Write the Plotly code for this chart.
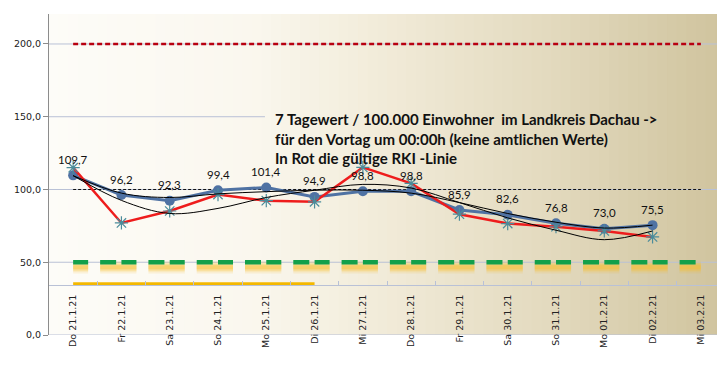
import plotly.graph_objects as go

# ---------------- data ----------------
categories = ["Do 21.1.21", "Fr 22.1.21", "Sa 23.1.21", "So 24.1.21", "Mo 25.1.21",
              "Di 26.1.21", "Mi 27.1.21", "Do 28.1.21", "Fr 29.1.21", "Sa 30.1.21",
              "So 31.1.21", "Mo 01.2.21", "Di 02.2.21", "Mi 03.2.21"]

own_values = [109.7, 96.2, 92.3, 99.4, 101.4, 94.9, 98.8, 98.8, 85.9, 82.6, 76.8, 73.0, 75.5]
rki_values = [115.0, 77.0, 85.2, 96.5, 92.3, 91.5, 115.2, 104.2, 83.0, 76.6, 74.4, 71.5, 67.4]
trend_own = [109.5, 97.5, 94.5, 97.0, 98.5, 99.5, 99.5, 97.5, 91.0, 83.5, 77.5, 73.5, 75.5]
trend_rki = [109.5, 92.5, 83.5, 87.0, 94.5, 99.5, 103.5, 101.0, 91.0, 80.5, 72.0, 65.5, 71.5]

limit_200 = [200] * 14
limit_100 = [100] * 14
limit_50 = [50] * 14
limit_35 = [35] * 6

y_tick_vals = [0, 50, 100, 150, 200]
y_tick_text = ["0,0", "50,0", "100,0", "150,0", "200,0"]

# ---------------- figure ----------------
fig = go.Figure()

Y_MAX = 220.6

# gradient background (vertical strips)
stops = [(0.0, (253, 252, 248)), (0.3, (250, 247, 238)), (0.5, (241, 235, 216)),
         (0.75, (226, 217, 189)), (1.0, (207, 195, 157))]


def grad(f):
    for (f0, c0), (f1, c1) in zip(stops[:-1], stops[1:]):
        if f0 <= f <= f1:
            t = (f - f0) / (f1 - f0)
            return "rgb(%d,%d,%d)" % tuple(round(a + (b - a) * t) for a, b in zip(c0, c1))
    return "rgb(%d,%d,%d)" % stops[-1][1]


shapes = []
N = 70
for i in range(N):
    f0 = i / N
    f1 = (i + 1) / N
    shapes.append(dict(type="rect", xref="paper", yref="paper", x0=f0, x1=f1 + 0.002,
                       y0=0, y1=1, fillcolor=grad((f0 + f1) / 2), line=dict(width=0),
                       layer="below"))

grid_col = "#b9c1d6"
for v in [0, 50, 100, 200]:
    shapes.append(dict(type="line", xref="paper", yref="y", x0=0, x1=1, y0=v, y1=v,
                       line=dict(color=grid_col, width=1), layer="below"))
shapes.append(dict(type="line", xref="paper", yref="y", x0=0, x1=0.3195, y0=150, y1=150,
                   line=dict(color=grid_col, width=1), layer="below"))

# threshold lines
fig.add_trace(go.Scatter(x=categories, y=limit_200, mode="lines",
                         line=dict(color="#b80010", width=2.5, dash="5px,3px"),
                         hoverinfo="skip"))
fig.add_trace(go.Scatter(x=categories, y=limit_100, mode="lines",
                         line=dict(color="#111111", width=1, dash="3px,2px"),
                         hoverinfo="skip"))

# yellow glow under green line
glow_y = [v - 3.4 for v in limit_50]
for w, op in [(13, 0.1), (10, 0.16), (7, 0.26), (4, 0.35)]:
    fig.add_trace(go.Scatter(x=categories, y=glow_y, mode="lines",
                             line=dict(color="rgba(248,190,40,%s)" % op, width=w,
                                       dash="15px,12px,21.29px,0px"),
                             hoverinfo="skip"))
fig.add_trace(go.Scatter(x=categories, y=limit_50, mode="lines",
                         line=dict(color="#13a04a", width=4.5, dash="15px,12px,16px,5.29px"),
                         hoverinfo="skip"))
fig.add_trace(go.Scatter(x=categories[:6], y=limit_35, mode="lines",
                         line=dict(color="#f4b800", width=3.5), hoverinfo="skip"))

# own values (blue)
fig.add_trace(go.Scatter(x=categories[:13], y=own_values, mode="lines+markers",
                         line=dict(color="#4f72a3", width=3),
                         marker=dict(symbol="circle", size=10, color="#4f72a3")))
# RKI values (red)
fig.add_trace(go.Scatter(x=categories[:13], y=rki_values, mode="lines+markers",
                         line=dict(color="#ee1c1c", width=2.5),
                         marker=dict(symbol="asterisk-open", size=11, color="#4b8c9b",
                                     line=dict(color="#4b8c9b", width=1.2))))
# trend lines
for tr in (trend_own, trend_rki):
    fig.add_trace(go.Scatter(x=categories[:13], y=tr, mode="lines",
                             line=dict(color="#000000", width=1, shape="spline", smoothing=1.0),
                             hoverinfo="skip"))

annotations = []
for c, v in zip(categories, own_values):
    annotations.append(dict(x=c, y=v, xref="x", yref="y", text=("%.1f" % v).replace(".", ","),
                            showarrow=False, yshift=16,
                            font=dict(family="Lato", size=11.5, color="#111111")))

annotations.append(dict(
    xref="paper", yref="paper", x=0.331, y=0.707, xanchor="left", yanchor="top",
    align="left", showarrow=False,
    text="<b>7 Tagewert / 100.000 Einwohner&nbsp;&nbsp;im Landkreis Dachau -></b><br>"
         "<b>für den Vortag um 00:00h (keine amtlichen Werte)</b><br>"
         "<b>In Rot die gültige RKI -Linie</b>",
    font=dict(family="Lato", size=15, color="#111111")))

# the page body adds an 8px offset; the figure is sized so the plot area lands
# at x 49..725, y 14..335 of the window
fig.update_layout(
    width=717, height=367,
    margin=dict(l=41, r=0, t=6, b=40, autoexpand=False),
    paper_bgcolor="white", plot_bgcolor="white",
    showlegend=False,
    shapes=shapes,
    annotations=annotations,
    xaxis=dict(type="category", categoryorder="array", categoryarray=categories,
               range=[-0.5, 13.5], anchor="free", position=34.5 / Y_MAX,
               automargin=False,
               showline=True, linecolor=grid_col, linewidth=1,
               ticks="inside", ticklen=4, tickcolor=grid_col, tickson="boundaries",
               tickangle=-90, showgrid=False, zeroline=False, ticklabelstandoff=5,
               tickfont=dict(family="DejaVu Sans", size=9.5, color="#222222")),
    yaxis=dict(range=[0, Y_MAX], tickvals=y_tick_vals, ticktext=y_tick_text,
               automargin=False,
               showgrid=False, zeroline=False, showline=True, linecolor="#8c8c8c",
               ticks="outside", ticklen=5, tickcolor="#8c8c8c",
               tickfont=dict(family="DejaVu Sans", size=9.5, color="#222222")),
)

fig.write_html("out.html")
